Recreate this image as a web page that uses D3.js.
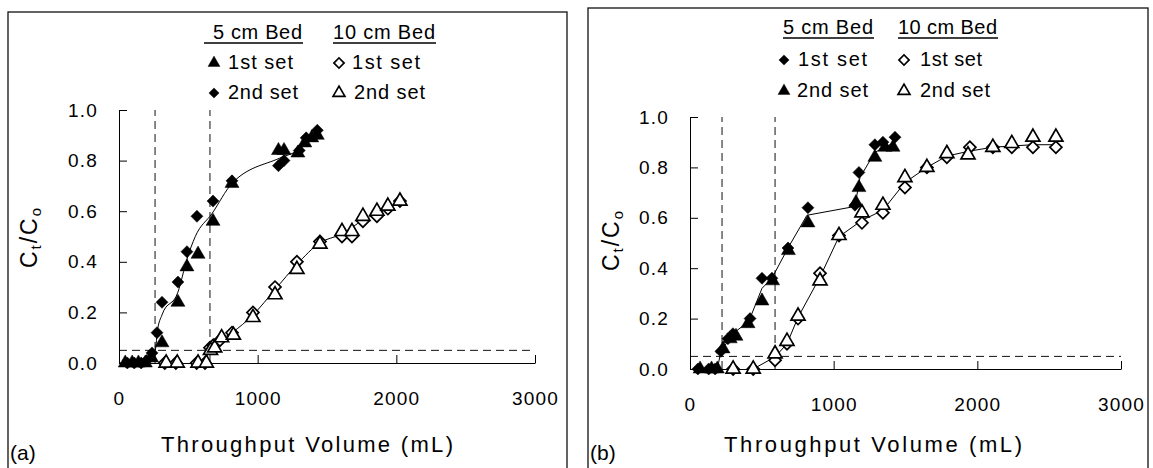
<!DOCTYPE html>
<html>
<head>
<meta charset="utf-8">
<script src="https://cdn.jsdelivr.net/npm/d3@7"></script>
<style>
  body { margin: 0; background: #fff; }
  text { font-family: "Liberation Sans", Arial, sans-serif; fill: #000; }
</style>
</head>
<body>
<script>
// ---- data: [throughput mL, Ct/Co] ----
const xTicks = [0, 1000, 2000, 3000];
const yTicks = [0, 0.2, 0.4, 0.6, 0.8, 1.0];

// panel (a)
const a5cmFirst = [[45,0],[95,0],[140,0],[190,0],[235,0.02],[310,0.08],[425,0.24],[490,0.38],[570,0.43],[678,0.56],[815,0.71],[1150,0.84],[1190,0.84],[1290,0.83],[1340,0.87],[1390,0.89],[1430,0.90]];
const a5cmSecond = [[60,0],[110,0],[160,0],[200,0.01],[238,0.04],[274,0.12],[310,0.24],[425,0.32],[490,0.44],[562,0.58],[678,0.64],[815,0.72],[1150,0.78],[1190,0.80],[1300,0.84],[1350,0.89],[1430,0.92]];
const a10cmFirst = [[330,0],[410,0],[560,0],[620,0],[656,0.06],[680,0.07],[728,0.09],[815,0.12],[966,0.20],[1125,0.30],[1283,0.40],[1449,0.48],[1608,0.50],[1680,0.50],[1759,0.56],[1860,0.58],[1939,0.61],[2026,0.64]];
const a10cmSecond = [[340,0],[420,0],[570,0],[630,0],[660,0.05],[690,0.06],[740,0.10],[825,0.11],[966,0.18],[1125,0.27],[1283,0.37],[1449,0.47],[1608,0.52],[1680,0.52],[1759,0.58],[1860,0.60],[1939,0.62],[2026,0.64]];
const a5cmFit = [[0,0],[235,0.01],[262,0.05],[278,0.13],[310,0.19],[425,0.28],[490,0.41],[550,0.50],[670,0.59],[815,0.71],[1160,0.81],[1290,0.84],[1430,0.91]];
const a10cmFit = [[620,0],[656,0.06],[728,0.09],[815,0.12],[966,0.19],[1125,0.29],[1283,0.39],[1449,0.475],[1608,0.51],[1760,0.565],[1939,0.61],[2026,0.635]];
const aBreak = [260, 656];

// panel (b)
const b5cmFirst = [[55,0],[130,0],[175,0],[215,0.07],[264,0.12],[299,0.14],[418,0.20],[501,0.36],[570,0.36],[682,0.48],[821,0.64],[1148,0.65],[1176,0.78],[1287,0.89],[1343,0.90],[1427,0.92]];
const b5cmSecond = [[70,0],[150,0],[190,0],[230,0.08],[280,0.12],[320,0.13],[404,0.18],[501,0.27],[575,0.35],[685,0.47],[821,0.58],[1155,0.66],[1176,0.72],[1287,0.84],[1357,0.88],[1413,0.88]];
const b10cmFirst = [[300,0],[440,0],[592,0.035],[675,0.10],[752,0.20],[905,0.38],[1037,0.53],[1197,0.58],[1343,0.62],[1496,0.72],[1649,0.80],[1788,0.84],[1948,0.88],[2108,0.88],[2240,0.88],[2387,0.88],[2547,0.88]];
const b10cmSecond = [[300,0],[440,0],[592,0.06],[675,0.11],[752,0.21],[905,0.35],[1037,0.53],[1197,0.62],[1343,0.65],[1496,0.76],[1649,0.80],[1788,0.855],[1935,0.85],[2108,0.88],[2240,0.895],[2387,0.92],[2547,0.92]];
const b5cmFit = [[50,0],[190,0],[215,0.07],[299,0.14],[410,0.19],[501,0.32],[570,0.36],[682,0.48],[814,0.61],[1148,0.645],[1183,0.76],[1287,0.86],[1427,0.90]];
const b10cmFit = [[440,0],[592,0.048],[675,0.10],[752,0.205],[905,0.365],[1037,0.525],[1197,0.59],[1343,0.63],[1496,0.74],[1649,0.80],[1788,0.845],[1948,0.865],[2108,0.88],[2240,0.885],[2387,0.89],[2547,0.89]];
const bBreak = [223, 592];

const threshold = 0.05;

const svg = d3.select('body').append('svg')
  .attr('width', 1153)
  .attr('height', 468);

const triSym = d3.symbol(d3.symbolTriangle, 85);
const diaSym = d3.symbol(d3.symbolSquare, 72);

function marker(g, kind, filled, x, y, scale) {
  const s = scale || 1;
  return g.append('path')
    .attr('d', kind === 'tri' ? triSym() : diaSym())
    .attr('transform', `translate(${x},${y}) scale(${s})` + (kind === 'dia' ? ' rotate(45)' : ''))
    .attr('fill', filled ? '#000' : '#fff')
    .attr('stroke', '#000')
    .attr('stroke-width', filled ? 0.5 : 1.7 / s);
}

function fitText(sel, len) {
  return sel.attr('textLength', len).attr('lengthAdjust', 'spacing');
}

function drawPanel(cfg) {
  svg.append('rect')
    .attr('x', cfg.frame[0]).attr('y', cfg.frame[1])
    .attr('width', cfg.frame[2] - cfg.frame[0]).attr('height', 480)
    .attr('fill', 'none').attr('stroke', '#111').attr('stroke-width', 1.3);

  const x = d3.scaleLinear().domain([0, 3000]).range([cfg.x0, cfg.x1]);
  const y = d3.scaleLinear().domain([0, 1]).range([cfg.y0, cfg.y1]);

  // dashed guides
  const guides = svg.append('g')
    .attr('stroke', '#111').attr('stroke-width', 1).attr('stroke-dasharray', '8,5');
  guides.append('line')
    .attr('x1', x(0)).attr('x2', x(3000))
    .attr('y1', y(threshold)).attr('y2', y(threshold));
  cfg.breaks.forEach(v => {
    guides.append('line')
      .attr('x1', x(v)).attr('x2', x(v))
      .attr('y1', y(0)).attr('y2', y(1));
  });

  // axes, ticks inside
  const yAxis = svg.append('g')
    .attr('transform', `translate(${cfg.x0},0)`)
    .call(d3.axisLeft(y).tickValues(yTicks).tickFormat(d3.format('.1f'))
      .tickSizeInner(-8).tickSizeOuter(0).tickPadding(21));
  const xAxis = svg.append('g')
    .attr('transform', `translate(0,${cfg.y0})`)
    .call(d3.axisBottom(x).tickValues(xTicks).tickFormat(d3.format('d'))
      .tickSizeInner(-8).tickSizeOuter(0).tickPadding(29));
  [yAxis, xAxis].forEach(ax => {
    ax.select('.domain').attr('stroke', '#000');
    ax.selectAll('.tick line').attr('stroke', '#000');
    ax.selectAll('text').attr('font-size', 19).attr('font-family', '"Liberation Sans", Arial, sans-serif')
      .attr('letter-spacing', 1.2);
  });
  xAxis.selectAll('text').attr('dy', '0.71em');

  // fitted lines
  const line = d3.line().x(d => x(d[0])).y(d => y(d[1])).curve(cfg.curve);
  [cfg.fit5, cfg.fit10].forEach(fd => {
    svg.append('path').attr('d', line(fd))
      .attr('fill', 'none').attr('stroke', '#000').attr('stroke-width', 1);
  });

  // points
  const pts = svg.append('g');
  cfg.series.forEach(s => {
    s.data.forEach(d => marker(pts, s.kind, s.filled, x(d[0]), y(d[1])));
  });

  // axis titles
  fitText(svg.append('text')
    .attr('x', cfg.titleX[0]).attr('y', 452)
    .attr('font-size', 22)
    .text('Throughput Volume (mL)'), cfg.titleX[1]);

  const yl = svg.append('text')
    .attr('transform', `translate(${cfg.ylab[0]},${cfg.ylab[1]}) rotate(-90)`)
    .attr('text-anchor', 'middle')
    .attr('font-size', 23)
    .attr('letter-spacing', 2);
  yl.append('tspan').text('C');
  yl.append('tspan').attr('font-size', 15).attr('dy', 4).text('t');
  yl.append('tspan').attr('dy', -4).text('/C');
  yl.append('tspan').attr('font-size', 15).attr('dy', 4).text('o');

  svg.append('text')
    .attr('x', cfg.frame[0] + 2).attr('y', 460)
    .attr('font-size', 21)
    .text(cfg.tag);

  // legend
  const lg = cfg.legend;
  lg.heads.forEach(h => {
    fitText(svg.append('text').attr('x', h.x).attr('y', lg.headY).attr('font-size', 20).text(h.t), h.w);
    svg.append('line')
      .attr('x1', h.x - h.pre).attr('x2', h.x + h.w + 1)
      .attr('y1', lg.headY + 4).attr('y2', lg.headY + 4)
      .attr('stroke', '#000').attr('stroke-width', 1.3);
  });
  lg.rows.forEach(r => {
    marker(svg, r.kind, r.filled, r.mx, r.y - 6, 0.85);
    fitText(svg.append('text').attr('x', r.tx).attr('y', r.y).attr('font-size', 20).text(r.t), r.w);
  });
}

drawPanel({
  frame: [8, 12, 567],
  x0: 119, x1: 535, y0: 363, y1: 110,
  breaks: aBreak,
  curve: d3.curveMonotoneX,
  fit5: a5cmFit, fit10: a10cmFit,
  series: [
    { data: a10cmFirst, kind: 'dia', filled: false },
    { data: a10cmSecond, kind: 'tri', filled: false },
    { data: a5cmFirst, kind: 'tri', filled: true },
    { data: a5cmSecond, kind: 'dia', filled: true }
  ],
  titleX: [161, 292],
  ylab: [37, 237],
  tag: '(a)',
  legend: {
    headY: 39,
    heads: [{ t: '5 cm Bed', x: 213, w: 89, pre: 9 }, { t: '10 cm Bed', x: 333, w: 102, pre: 0 }],
    rows: [
      { kind: 'tri', filled: true, mx: 214, tx: 228, y: 69, t: '1st set', w: 65 },
      { kind: 'dia', filled: true, mx: 214, tx: 228, y: 99, t: '2nd set', w: 70 },
      { kind: 'dia', filled: false, mx: 339, tx: 352, y: 69, t: '1st set', w: 68 },
      { kind: 'tri', filled: false, mx: 339, tx: 354, y: 99, t: '2nd set', w: 71 }
    ]
  }
});

drawPanel({
  frame: [588, 8, 1148],
  x0: 690, x1: 1121, y0: 369, y1: 117,
  breaks: bBreak,
  curve: d3.curveLinear,
  fit5: b5cmFit, fit10: b10cmFit,
  series: [
    { data: b10cmFirst, kind: 'dia', filled: false },
    { data: b10cmSecond, kind: 'tri', filled: false },
    { data: b5cmFirst, kind: 'dia', filled: true },
    { data: b5cmSecond, kind: 'tri', filled: true }
  ],
  titleX: [724, 298],
  ylab: [619, 240],
  tag: '(b)',
  legend: {
    headY: 34,
    heads: [{ t: '5 cm Bed', x: 783, w: 90, pre: 0 }, { t: '10 cm Bed', x: 898, w: 99, pre: 0 }],
    rows: [
      { kind: 'dia', filled: true, mx: 784, tx: 798, y: 66, t: '1st set', w: 69 },
      { kind: 'tri', filled: true, mx: 784, tx: 797, y: 97, t: '2nd set', w: 71 },
      { kind: 'dia', filled: false, mx: 904, tx: 920, y: 66, t: '1st set', w: 62 },
      { kind: 'tri', filled: false, mx: 904, tx: 920, y: 97, t: '2nd set', w: 70 }
    ]
  }
});
</script>
</body>
</html>
